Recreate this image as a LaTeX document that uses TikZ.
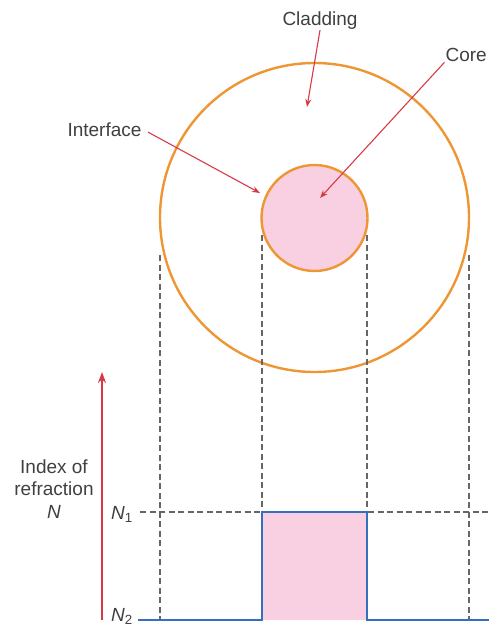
\documentclass[tikz,border=0pt]{standalone}
\usepackage{fontspec}
\setmainfont{Liberation Sans}
\usetikzlibrary{arrows.meta,positioning}
\definecolor{claddingorange}{RGB}{238,150,52}
\definecolor{corepink}{RGB}{248,208,226}
\definecolor{pointerred}{RGB}{214,58,70}
\definecolor{profileblue}{RGB}{52,112,190}
\tikzset{
  note/.style={
    font=\fontsize{19}{22.5}\selectfont,
    text=black!75,
    inner sep=1pt
  },
  ring/.style={
    circle,
    draw=claddingorange,
    line width=2.4pt,
    inner sep=0pt
  },
  guide/.style={
    draw=black!60,
    line width=1.1pt,
    dash pattern=on 6pt off 3.5pt
  },
  pointer/.style={
    -{Stealth[length=8pt,width=6pt]},
    line width=1.1pt,
    pointerred
  },
  axis/.style={
    -{Stealth[length=11pt,width=8pt]},
    line width=2.8pt,
    pointerred
  },
  profile/.style={
    draw=profileblue,
    line width=2.6pt
  }
}

\begin{document}
\begin{tikzpicture}[x=1pt,y=-1pt]
\useasboundingbox (0,0) rectangle (489,629);
% cross-section of the fibre
\node[ring, minimum size=309pt] (outer) at (314.5,217.5) {};
\node[ring, fill=corepink, minimum size=106pt] (inner) at (314.5,218) {};
\node[note, anchor=base] (cladding) at (320,25) {Cladding};
\node[note, anchor=base east] (core) at (488,61) {Core};
\node[note, anchor=base] (interface) at (104.5,136) {Interface};
\coordinate (cladtip) at (307,107);
\coordinate (coretip) at (320,198);
\coordinate (facetip) at (260,193);
\draw[pointer] (cladding.south) -- (cladtip);
\draw[pointer] (core.south west) -- (coretip);
\draw[pointer, shorten <=6pt] (interface.east) -- (facetip);
% refractive index profile
\fill[corepink] (262,512) rectangle (367,620);
\draw[guide] (160,255) -- (160,620);
\draw[guide] (469,255) -- (469,620);
\draw[guide] (262,235) -- (262,512);
\draw[guide] (367,235) -- (367,512);
\draw[guide] (140,512) -- (489,512);
\draw[profile] (138,620) -- (262,620) -- (262,512) -- (367,512) -- (367,620) -- (489,620);
\coordinate (axisfoot) at (102,620);
\coordinate (axistop) at (102,372);
\draw[axis] (axisfoot) -- (axistop);
\node[note, align=center] (index) at (54,489) {Index of\\refraction\\\textit{N}};
\node[note, anchor=base east] (n1) at (134,519) {\textit{N}\textsubscript{1}};
\node[note, anchor=base east] (n2) at (134,621) {\textit{N}\textsubscript{2}};
\end{tikzpicture}
\end{document}
